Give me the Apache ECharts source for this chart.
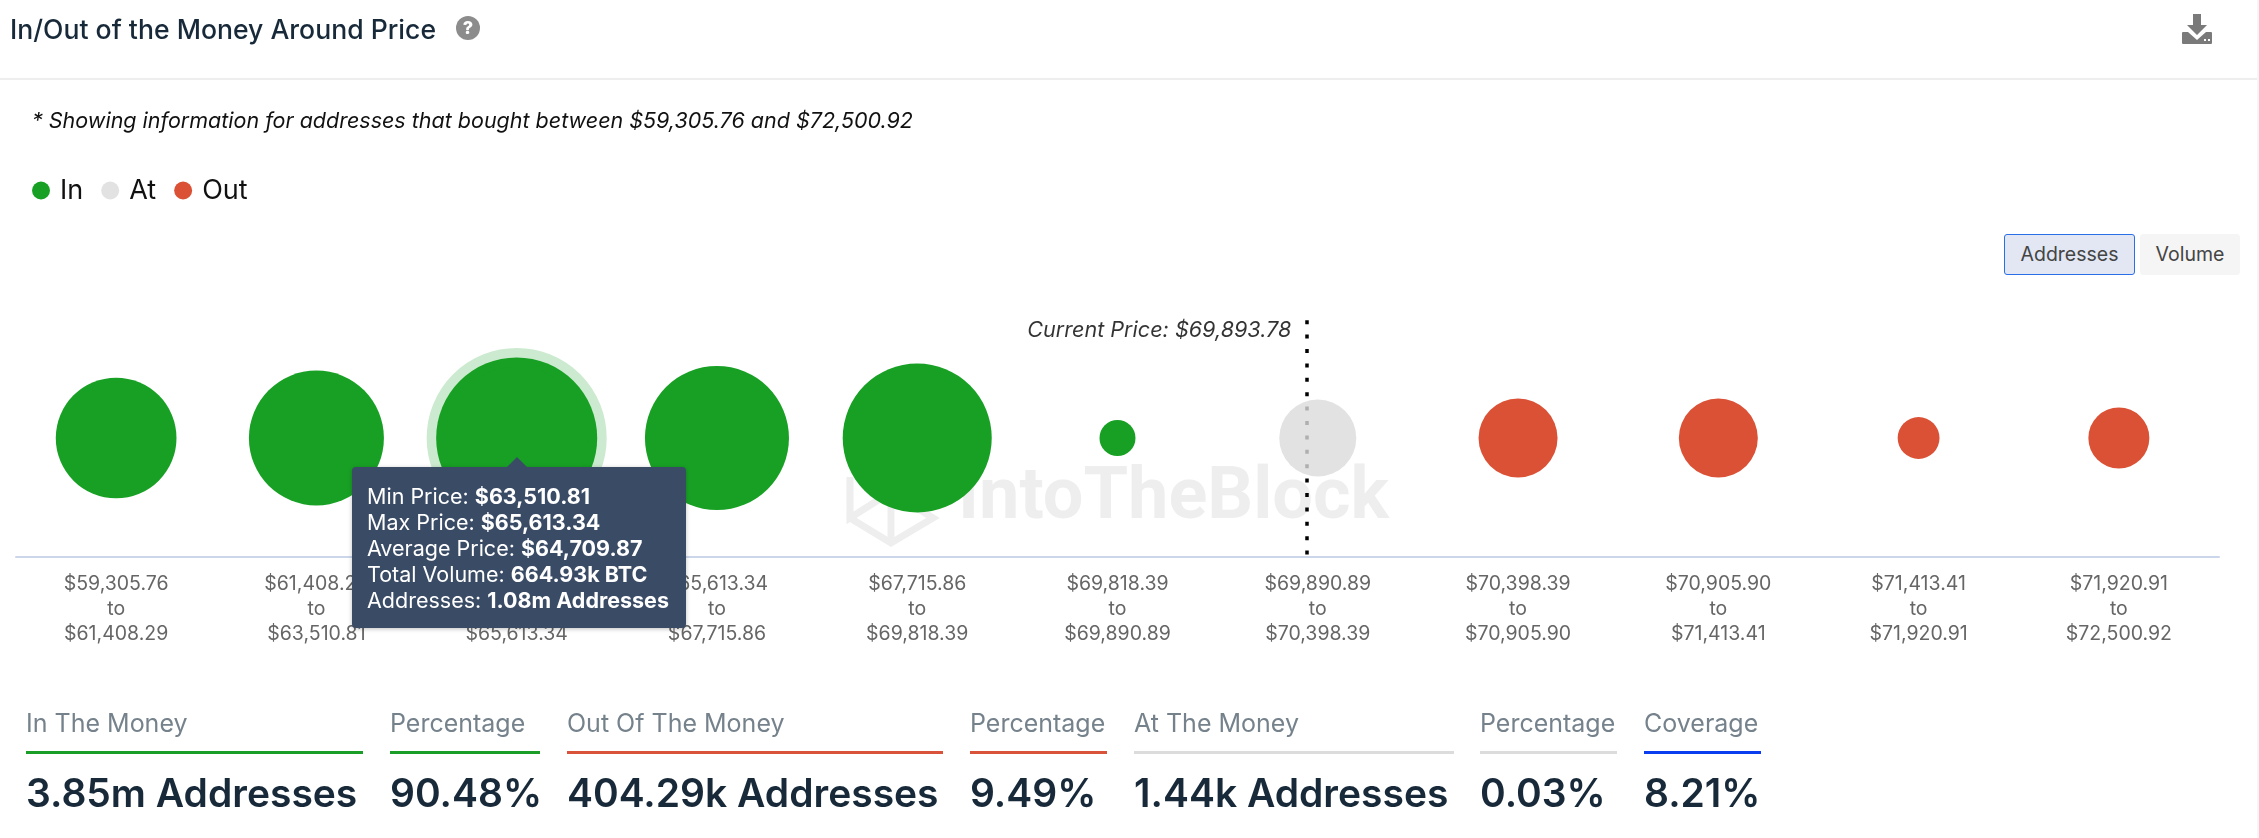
<!DOCTYPE html>
<html>
<head>
<meta charset="utf-8">
<title>In/Out of the Money Around Price</title>
<script src="https://cdn.jsdelivr.net/npm/echarts@6/dist/echarts.min.js"></script>
<style>
html,body{margin:0;padding:0;background:#fff;width:2259px;height:838px;overflow:hidden;font-family:Inter,"Noto Sans",sans-serif;}
#chart{position:absolute;left:0;top:0;width:2259px;height:838px;}
.abs{position:absolute;white-space:nowrap;}
#title{left:10px;top:12px;font-size:26.6px;line-height:34px;font-weight:500;color:#182a3a;}
#help{left:456px;top:16px;width:24px;height:24px;border-radius:50%;background:#8c8c8c;color:#fff;font-size:18px;font-weight:800;line-height:24px;text-align:center;}
#rule{left:0;top:78px;width:2259px;height:2px;background:#eeeeee;}
#edge{left:2257px;top:0;width:2px;height:838px;background:#f6f6f6;}
#note{left:32px;top:106px;font-size:21.5px;line-height:28px;font-style:italic;color:#111;}
.btn{top:234px;height:41px;line-height:39px;box-sizing:border-box;text-align:center;font-size:19.5px;color:#444;border-radius:3px;background:#f5f5f5;border:1px solid #f5f5f5;}
#btnA{left:2004px;width:131px;background:#e2e7f3;border-color:#2a6fe8;}
#btnV{left:2140px;width:100px;}
.lbl{top:708px;font-size:25px;line-height:30px;color:#75828c;}
.bar{top:751px;height:3px;}
.val{top:770px;font-size:39px;line-height:46px;font-weight:600;color:#182a3a;}
</style>
</head>
<body>
<div id="chart"></div>
<div class="abs" id="title">In/Out of the Money Around Price</div>
<div class="abs" id="help">?</div>
<svg class="abs" style="left:2182px;top:14px" width="32" height="30" viewBox="0 0 32 30">
  <path d="M11 0h8v11h6l-10 10L5 11h6z" fill="#7a7a7a"/>
  <path d="M1 18h5l9 8 9-8h5q1 0 1 1v10q0 1-1 1H1q-1 0-1-1V19q0-1 1-1z" fill="#7a7a7a"/>
  <rect x="22" y="25" width="2" height="2" fill="#fff"/><rect x="26" y="25" width="2" height="2" fill="#fff"/>
</svg>
<div class="abs" id="rule"></div>
<div class="abs" id="edge"></div>
<div class="abs" id="note">* Showing information for addresses that bought between $59,305.76 and $72,500.92</div>
<div class="abs btn" id="btnA">Addresses</div>
<div class="abs btn" id="btnV">Volume</div>
<div id="stats"></div>
<script>
// price buckets
var binLow = ['$59,305.76','$61,408.29','$63,510.81','$65,613.34','$67,715.86','$69,818.39','$69,890.89','$70,398.39','$70,905.90','$71,413.41','$71,920.91'];
var binHigh = ['$61,408.29','$63,510.81','$65,613.34','$67,715.86','$69,818.39','$69,890.89','$70,398.39','$70,905.90','$71,413.41','$71,920.91','$72,500.92'];

// addresses per bucket, thousands (1.08m is the one the tooltip gives)
var inAddresses = [607, 759, 1080, 864, 925, 54];
var atAddresses = [247];
var outAddresses = [260, 260, 73, 155];

// where the dotted line sits, in buckets from the left edge of the axis
var currentPriceSlot = 6.443;
var currentPriceText = 'Current Price: $69,893.78';

// tooltip of the hovered bucket
var hoverIndex = 2;
var hoverAverage = '$64,709.87';
var hoverVolume = '664.93k BTC';
var hoverAddresses = '1.08m Addresses';

// summary row
var statLabels = ['In The Money','Percentage','Out Of The Money','Percentage','At The Money','Percentage','Coverage'];
var statValues = ['3.85m Addresses','90.48%','404.29k Addresses','9.49%','1.44k Addresses','0.03%','8.21%'];
var statColors = ['#1a9e27','#1a9e27','#d9523a','#d9523a','#dcdcdc','#dcdcdc','#0a3cf0'];
var statLeft = [26,390,567,970,1134,1480,1644];
var statWidth = [337,150,376,137,320,137,117];

var html = '';
for (var i = 0; i < statLabels.length; i++) {
	html += '<div class="abs lbl" style="left:'+statLeft[i]+'px">'+statLabels[i]+'</div>';
	html += '<div class="abs bar" style="left:'+statLeft[i]+'px;width:'+statWidth[i]+'px;background:'+statColors[i]+'"></div>';
	html += '<div class="abs val" style="left:'+statLeft[i]+'px">'+statValues[i]+'</div>';
}
document.getElementById('stats').innerHTML = html;

var GREEN = '#18a025', RED = '#da5136';
var categories = binLow.map(function(low, i){ return low + '\nto\n' + binHigh[i]; });

function bubbleData(values, offset) {
	return values.map(function(v, i){ return [offset + i, 0, v]; });
}
function bubbleSize(d) {
	return Math.sqrt(d[2]) * 4.9;
}

var myChart = echarts.init(document.getElementById('chart'));
var option = {
	animation: false,
	textStyle: { fontFamily: 'Inter' },
	legend: {
		left: 27, top: 172,
		data: ['In','At','Out'],
		icon: 'circle',
		itemWidth: 18, itemHeight: 18, itemGap: 18,
		selectedMode: false,
		textStyle: { fontSize: 27, color: '#111', padding: [0,0,0,5] }
	},
	grid: { left: 16, right: 40, top: 319, bottom: 281 },
	xAxis: [
		{
			type: 'category',
			data: categories,
			axisTick: { show: false },
			axisLine: { onZero: false, lineStyle: { color: '#ccd6eb', width: 2 } },
			axisLabel: { interval: 0, color: '#666', fontSize: 19.5, lineHeight: 25.3, margin: 14 },
			splitLine: { show: false }
		},
		// same width as the category axis, only for the current price line
		{ type: 'value', min: 0, max: 11, show: false }
	],
	yAxis: [{ type: 'value', min: -1, max: 1, show: false }],
	tooltip: {
		trigger: 'item',
		alwaysShowContent: true,
		transitionDuration: 0,
		position: [352, 467],
		padding: [16, 15],
		borderWidth: 0,
		backgroundColor: '#3a4b66',
		extraCssText: 'width:334px;height:161px;box-sizing:border-box;border-radius:4px;box-shadow:0 1px 4px rgba(0,0,0,.25);',
		formatter: function () {
			var rows = [
				['Min Price', binLow[hoverIndex]],
				['Max Price', binHigh[hoverIndex]],
				['Average Price', hoverAverage],
				['Total Volume', hoverVolume],
				['Addresses', hoverAddresses]
			];
			var res = '<div style="position:absolute;left:155px;top:-10px;width:0;height:0;border-left:10px solid transparent;border-right:10px solid transparent;border-bottom:10px solid #3a4b66"></div>';
			for (var r = 0; r < rows.length; r++) {
				res += '<div style="font:400 21.5px/26px Inter;color:#fff">' + rows[r][0] + ': <b style="font-weight:700">' + rows[r][1] + '</b></div>';
			}
			return res;
		}
	},
	graphic: [
		{
			type: 'text', z: -1, silent: true, left: 958, top: 464,
			style: { text: 'IntoTheBlock', fontFamily: 'Roboto', fontWeight: 700, fontSize: 72, fill: '#eeeeee' }
		},
		{
			type: 'polyline', z: -1, silent: true,
			shape: { points: [[850,477],[850,518],[891,492],[933,518],[891,543],[850,518]] },
			style: { stroke: '#eeeeee', lineWidth: 7, fill: null }
		},
		{
			type: 'line', z: -1, silent: true,
			shape: { x1: 891, y1: 492, x2: 891, y2: 543 },
			style: { stroke: '#eeeeee', lineWidth: 7 }
		}
	],
	series: [
		{
			name: 'In', type: 'scatter', z: 2,
			data: bubbleData(inAddresses, 0),
			symbolSize: bubbleSize,
			itemStyle: { color: GREEN, opacity: 1 },
			emphasis: { scale: false, itemStyle: { color: GREEN, borderColor: 'rgba(24,160,37,0.22)', borderWidth: 19 } }
		},
		{
			name: 'At', type: 'scatter', z: 3,
			data: bubbleData(atAddresses, inAddresses.length),
			symbolSize: bubbleSize,
			itemStyle: { color: '#dbdbdb', opacity: 0.8 },
			emphasis: { scale: false }
		},
		{
			name: 'Out', type: 'scatter', z: 2,
			data: bubbleData(outAddresses, inAddresses.length + atAddresses.length),
			symbolSize: bubbleSize,
			itemStyle: { color: RED, opacity: 1 },
			emphasis: { scale: false }
		},
		{
			name: 'Current Price', type: 'scatter', z: 1, silent: true,
			xAxisIndex: 1,
			data: [[currentPriceSlot, 0.9]],
			symbolSize: 0,
			tooltip: { show: false },
			label: {
				show: true, position: 'left', distance: 15,
				formatter: currentPriceText,
				fontSize: 21.6, fontStyle: 'italic', color: '#000'
			},
			markLine: {
				silent: true, z: 1,
				symbol: 'none',
				label: { show: false },
				lineStyle: { color: '#000', type: [4, 10.4], width: 3.5 },
				data: [[{ coord: [currentPriceSlot, 0.99] }, { coord: [currentPriceSlot, -1] }]]
			}
		}
	]
};
myChart.setOption(option);
myChart.dispatchAction({ type: 'highlight', seriesIndex: 0, dataIndex: hoverIndex });
myChart.dispatchAction({ type: 'showTip', seriesIndex: 0, dataIndex: hoverIndex });
</script>
</body>
</html>
